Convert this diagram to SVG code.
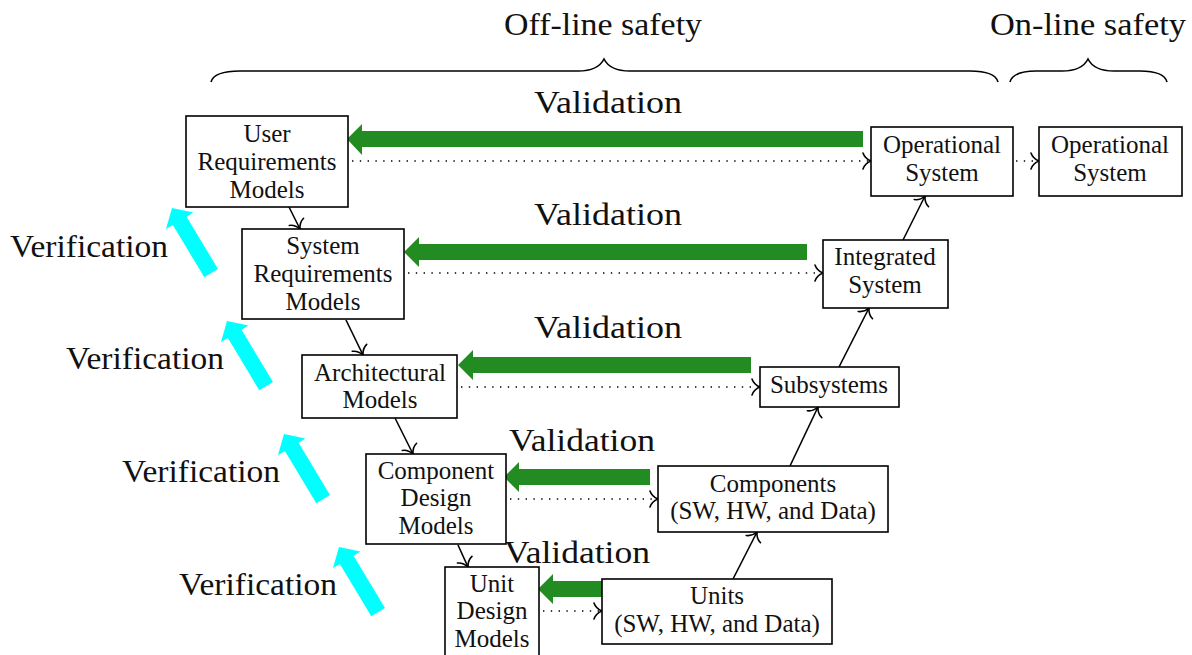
<svg xmlns="http://www.w3.org/2000/svg" width="1192" height="655" viewBox="0 0 1192 655">
<style>
.box{fill:#fff;stroke:#000;stroke-width:1.6}
.t{font-family:"Liberation Serif","Times New Roman",serif;font-size:25px;fill:#111;text-anchor:middle}
.big{font-family:"Liberation Serif","Times New Roman",serif;font-size:32px;fill:#111}
.mid{text-anchor:middle}
.solid{fill:none;stroke:#000;stroke-width:1.6;marker-end:url(#to)}
.dot{fill:none;stroke:#000;stroke-width:1.6;stroke-dasharray:1.4 6.4;marker-end:url(#to)}
.brace{fill:none;stroke:#000;stroke-width:1.6}
.green{fill:#228B22}
.cyan{fill:#00FFFF}
</style>
<defs>
<marker id="to" markerUnits="userSpaceOnUse" markerWidth="20" markerHeight="20" viewBox="-12 -10 14 20" refX="0" refY="0" orient="auto">
<path d="M-8,-8 C-6.5,-3.5 -2.5,-1 0,0 C-2.5,1 -6.5,3.5 -8,8" fill="none" stroke="#000" stroke-width="1.6" stroke-linecap="round"/>
</marker>
</defs>

<!-- headings and braces -->
<g id="offline">
<text class="big mid" x="603" y="35" textLength="198" lengthAdjust="spacingAndGlyphs">Off-line safety</text>
<path class="brace" d="M211,82 Q214,71 240,71 L578,71 Q598,71 604,59 Q610,71 630,71 L970,71 Q995,71 998,82"/>
</g>
<g id="online">
<text class="big mid" x="1088" y="35" textLength="196" lengthAdjust="spacingAndGlyphs">On-line safety</text>
<path class="brace" d="M1010,82 Q1013,71 1036,71 L1062,71 Q1082,71 1088,59 Q1094,71 1114,71 L1140,71 Q1164,71 1167,82"/>
</g>

<!-- connectors -->
<g id="connectors">
<path class="solid" d="M289,207 L300,229"/>
<path class="solid" d="M346,320 L363,355"/>
<path class="solid" d="M395,418 L413,454"/>
<path class="solid" d="M458,545 L468,567"/>
<path class="solid" d="M733,579 L757,532"/>
<path class="solid" d="M790,466 L818,407"/>
<path class="solid" d="M839,367 L869,308"/>
<path class="solid" d="M903,240 L925,196"/>
<path class="dot" d="M352,161 L871,161"/>
<path class="dot" d="M1016,161 L1039,161"/>
<path class="dot" d="M408,273 L823,273"/>
<path class="dot" d="M461,387 L760,387"/>
<path class="dot" d="M510,499 L658,499"/>
<path class="dot" d="M543,611 L602,611"/>
</g>

<!-- validation arrows -->
<g id="validation">
<polygon class="green" points="347,139 362,124 362,131 863,131 863,147 362,147 362,155"/>
<polygon class="green" points="404,252 419,237 419,244 807,244 807,260 419,260 419,267"/>
<polygon class="green" points="458,365 473,350 473,357 751,357 751,373 473,373 473,380"/>
<polygon class="green" points="504,477 519,462 519,469 650,469 650,485 519,485 519,492"/>
<polygon class="green" points="538,589 553,574 553,581 605,581 605,597 553,597 553,604"/>
<text class="big mid" x="608" y="113" textLength="148" lengthAdjust="spacingAndGlyphs">Validation</text>
<text class="big mid" x="608" y="225" textLength="148" lengthAdjust="spacingAndGlyphs">Validation</text>
<text class="big mid" x="608" y="338" textLength="148" lengthAdjust="spacingAndGlyphs">Validation</text>
<text class="big mid" x="582" y="451" textLength="146" lengthAdjust="spacingAndGlyphs">Validation</text>
<text class="big mid" x="577" y="563" textLength="146" lengthAdjust="spacingAndGlyphs">Validation</text>
</g>

<!-- verification arrows -->
<g id="verification">
<polygon class="cyan" transform="translate(172,208) rotate(-31)" points="0,0 16,15 8,15 8,76 -8,76 -8,15 -16,15"/>
<polygon class="cyan" transform="translate(227,321) rotate(-31)" points="0,0 16,15 8,15 8,76 -8,76 -8,15 -16,15"/>
<polygon class="cyan" transform="translate(284,434) rotate(-31)" points="0,0 16,15 8,15 8,76 -8,76 -8,15 -16,15"/>
<polygon class="cyan" transform="translate(339,547) rotate(-31)" points="0,0 16,15 8,15 8,76 -8,76 -8,15 -16,15"/>
<text class="big" x="10" y="257" textLength="158" lengthAdjust="spacingAndGlyphs">Verification</text>
<text class="big" x="66" y="369" textLength="158" lengthAdjust="spacingAndGlyphs">Verification</text>
<text class="big" x="122" y="482" textLength="158" lengthAdjust="spacingAndGlyphs">Verification</text>
<text class="big" x="179" y="595" textLength="158" lengthAdjust="spacingAndGlyphs">Verification</text>
</g>

<!-- nodes -->
<g id="user-req">
<rect class="box" x="186" y="116" width="162" height="91"/>
<text class="t" x="267" y="142">User</text>
<text class="t" x="267" y="170">Requirements</text>
<text class="t" x="267" y="198">Models</text>
</g>
<g id="op-system-1">
<rect class="box" x="871" y="127" width="142" height="69"/>
<text class="t" x="942" y="153">Operational</text>
<text class="t" x="942" y="181">System</text>
</g>
<g id="op-system-2">
<rect class="box" x="1039" y="127" width="143" height="69"/>
<text class="t" x="1110" y="153">Operational</text>
<text class="t" x="1110" y="181">System</text>
</g>
<g id="sys-req">
<rect class="box" x="242" y="229" width="162" height="90"/>
<text class="t" x="323" y="254">System</text>
<text class="t" x="323" y="282">Requirements</text>
<text class="t" x="323" y="310">Models</text>
</g>
<g id="integrated">
<rect class="box" x="823" y="240" width="125" height="68"/>
<text class="t" x="885" y="265">Integrated</text>
<text class="t" x="885" y="293">System</text>
</g>
<g id="arch">
<rect class="box" x="302" y="355" width="155" height="63"/>
<text class="t" x="380" y="381">Architectural</text>
<text class="t" x="380" y="408">Models</text>
</g>
<g id="subsystems">
<rect class="box" x="760" y="367" width="139" height="40"/>
<text class="t" x="829" y="393">Subsystems</text>
</g>
<g id="comp-design">
<rect class="box" x="366" y="454" width="140" height="90"/>
<text class="t" x="436" y="479">Component</text>
<text class="t" x="436" y="506">Design</text>
<text class="t" x="436" y="534">Models</text>
</g>
<g id="components">
<rect class="box" x="658" y="466" width="230" height="66"/>
<text class="t" x="773" y="492">Components</text>
<text class="t" x="773" y="519">(SW, HW, and Data)</text>
</g>
<g id="unit-design">
<rect class="box" x="445" y="567" width="94" height="95"/>
<text class="t" x="492" y="592">Unit</text>
<text class="t" x="492" y="619">Design</text>
<text class="t" x="492" y="647">Models</text>
</g>
<g id="units">
<rect class="box" x="602" y="579" width="230" height="65"/>
<text class="t" x="717" y="604">Units</text>
<text class="t" x="717" y="632">(SW, HW, and Data)</text>
</g>
</svg>
